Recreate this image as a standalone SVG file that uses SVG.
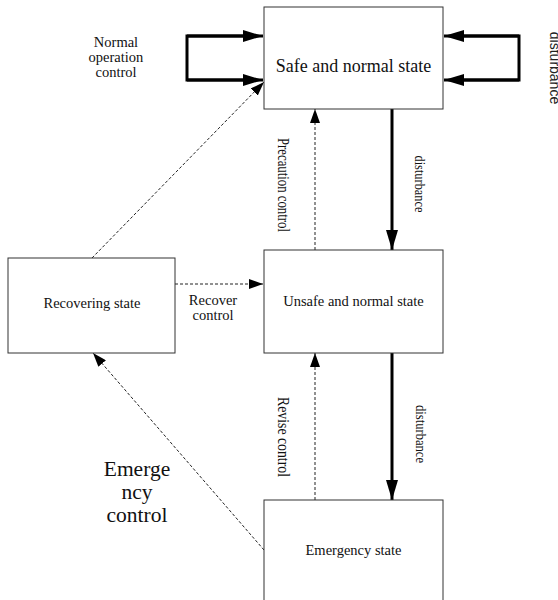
<svg xmlns="http://www.w3.org/2000/svg" width="558" height="600" viewBox="0 0 558 600">
  <style>
    .box { fill: #ffffff; stroke: #333333; stroke-width: 1; }
    .thick { fill: none; stroke: #000000; stroke-width: 3; }
    .dash { fill: none; stroke: #222222; stroke-width: 1; stroke-dasharray: 3 2; }
  </style>
  <defs>
    <marker id="headBig" markerUnits="userSpaceOnUse" markerWidth="20" markerHeight="12" refX="20" refY="6" orient="auto">
      <path d="M0,0 L20,6 L0,12 Z" fill="#000000"/>
    </marker>
    <marker id="headSmall" markerUnits="userSpaceOnUse" markerWidth="14" markerHeight="10" refX="14" refY="5" orient="auto">
      <path d="M0,0 L14,5 L0,10 Z" fill="#000000"/>
    </marker>
  </defs>

  <rect width="558" height="600" fill="#ffffff"/>

  <!-- connectors -->
  <g id="connectors">
    <!-- self loops on the safe state -->
    <path class="thick" d="M244,36 H187 V80 H244"/>
    <line class="thick" x1="187" y1="36" x2="263" y2="36" marker-end="url(#headBig)"/>
    <line class="thick" x1="187" y1="80" x2="263" y2="80" marker-end="url(#headBig)"/>
    <path class="thick" d="M463,36 H519 V80 H463"/>
    <line class="thick" x1="519" y1="36" x2="444" y2="36" marker-end="url(#headBig)"/>
    <line class="thick" x1="519" y1="80" x2="444" y2="80" marker-end="url(#headBig)"/>

    <!-- disturbances -->
    <line class="thick" x1="392" y1="109" x2="392" y2="250" marker-end="url(#headBig)"/>
    <line class="thick" x1="392" y1="353" x2="392" y2="500" marker-end="url(#headBig)"/>

    <!-- controls -->
    <line class="dash" x1="315" y1="250" x2="315" y2="109" marker-end="url(#headSmall)"/>
    <line class="dash" x1="315" y1="500" x2="315" y2="353" marker-end="url(#headSmall)"/>
    <line class="dash" x1="175" y1="284" x2="263" y2="284" marker-end="url(#headSmall)"/>
    <line class="dash" x1="92" y1="258" x2="264" y2="82" marker-end="url(#headSmall)"/>
    <line class="dash" x1="264" y1="550" x2="93" y2="353" marker-end="url(#headSmall)"/>

    <!-- connector labels -->
    <g font-family="Liberation Serif, Times New Roman, DejaVu Serif, serif" fill="#111111" text-anchor="middle">
      <text font-size="14.5" x="116" y="47">Normal</text>
      <text font-size="14.5" x="116" y="62">operation</text>
      <text font-size="14.5" x="116" y="77">control</text>

      <text font-size="16" textLength="94" lengthAdjust="spacingAndGlyphs" transform="translate(278,185) rotate(90)">Precaution control</text>
      <text font-size="16" textLength="80" lengthAdjust="spacingAndGlyphs" transform="translate(278,437) rotate(90)">Revise control</text>
      <text font-size="14" textLength="57" lengthAdjust="spacingAndGlyphs" transform="translate(415,184) rotate(90)">disturbance</text>
      <text font-size="14" textLength="58" lengthAdjust="spacingAndGlyphs" transform="translate(416,434) rotate(90)">disturbance</text>

      <text font-size="14.5" x="213" y="305">Recover</text>
      <text font-size="14.5" x="213" y="320">control</text>

      <text font-size="21.5" x="137" y="476">Emerge</text>
      <text font-size="21.5" x="137" y="499">ncy</text>
      <text font-size="21.5" x="137" y="522">control</text>
    </g>
    <text font-family="Liberation Sans, Arial, sans-serif" font-size="14" fill="#222222" text-anchor="middle" transform="translate(550,68) rotate(90)">disturbance</text>
  </g>

  <!-- states -->
  <g font-family="Liberation Serif, Times New Roman, DejaVu Serif, serif" fill="#111111" text-anchor="middle">
    <g id="safe-state">
      <rect class="box" x="264" y="7" width="179" height="102"/>
      <text font-size="18" x="353.5" y="71.5">Safe and normal state</text>
    </g>
    <g id="unsafe-state">
      <rect class="box" x="264" y="250" width="179" height="103"/>
      <text font-size="14.5" x="353.5" y="306">Unsafe and normal state</text>
    </g>
    <g id="recovering-state">
      <rect class="box" x="8" y="258" width="167" height="95"/>
      <text font-size="14.5" x="92" y="308">Recovering state</text>
    </g>
    <g id="emergency-state">
      <rect class="box" x="264" y="500" width="179" height="110"/>
      <text font-size="14.5" x="353.5" y="555">Emergency state</text>
    </g>
  </g>
</svg>
